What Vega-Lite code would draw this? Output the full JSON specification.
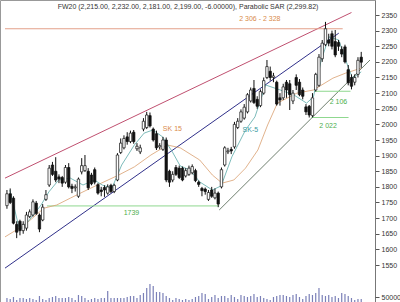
{
  "$schema": "https://vega.github.io/schema/vega-lite/v6.json",
  "width": 375,
  "height": 302,
  "autosize": {"type": "none"},
  "padding": {"left": 0, "top": 0, "right": 25, "bottom": 0},
  "background": "white",
  "config": {"view": {"stroke": "#999", "strokeWidth": 1}, "font": "Liberation Sans"},
  "datasets": {
    "candles": [
      {"i":0,"o":1740,"h":1790,"l":1730,"c":1778,"v":40000},
      {"i":1,"o":1778,"h":1795,"l":1745,"c":1750,"v":30000},
      {"i":2,"o":1764,"h":1770,"l":1680,"c":1684,"v":50000},
      {"i":3,"o":1680,"h":1690,"l":1636,"c":1655,"v":20000},
      {"i":4,"o":1690,"h":1695,"l":1645,"c":1660,"v":40000},
      {"i":5,"o":1660,"h":1690,"l":1650,"c":1680,"v":40000},
      {"i":6,"o":1668,"h":1720,"l":1660,"c":1710,"v":30000},
      {"i":7,"o":1705,"h":1728,"l":1700,"c":1720,"v":40000},
      {"i":8,"o":1710,"h":1760,"l":1705,"c":1752,"v":30000},
      {"i":9,"o":1748,"h":1755,"l":1710,"c":1715,"v":20000},
      {"i":10,"o":1710,"h":1715,"l":1655,"c":1665,"v":60000},
      {"i":11,"o":1694,"h":1745,"l":1690,"c":1735,"v":30000},
      {"i":12,"o":1760,"h":1790,"l":1755,"c":1775,"v":20000},
      {"i":13,"o":1806,"h":1870,"l":1800,"c":1860,"v":40000},
      {"i":14,"o":1870,"h":1880,"l":1835,"c":1840,"v":50000},
      {"i":15,"o":1850,"h":1895,"l":1815,"c":1822,"v":60000},
      {"i":16,"o":1832,"h":1840,"l":1812,"c":1825,"v":40000},
      {"i":17,"o":1830,"h":1835,"l":1800,"c":1812,"v":40000},
      {"i":18,"o":1815,"h":1870,"l":1810,"c":1862,"v":40000},
      {"i":19,"o":1862,"h":1876,"l":1795,"c":1800,"v":50000},
      {"i":20,"o":1802,"h":1810,"l":1780,"c":1795,"v":40000},
      {"i":21,"o":1797,"h":1808,"l":1785,"c":1800,"v":20000},
      {"i":22,"o":1770,"h":1830,"l":1765,"c":1825,"v":70000},
      {"i":23,"o":1848,"h":1892,"l":1840,"c":1868,"v":60000},
      {"i":24,"o":1852,"h":1902,"l":1848,"c":1868,"v":40000},
      {"i":25,"o":1850,"h":1860,"l":1790,"c":1797,"v":20000},
      {"i":26,"o":1838,"h":1845,"l":1805,"c":1810,"v":30000},
      {"i":27,"o":1855,"h":1862,"l":1808,"c":1815,"v":40000},
      {"i":28,"o":1807,"h":1812,"l":1775,"c":1780,"v":30000},
      {"i":29,"o":1790,"h":1800,"l":1770,"c":1785,"v":40000},
      {"i":30,"o":1798,"h":1805,"l":1768,"c":1790,"v":40000},
      {"i":31,"o":1780,"h":1808,"l":1775,"c":1800,"v":110000},
      {"i":32,"o":1805,"h":1810,"l":1780,"c":1785,"v":40000},
      {"i":33,"o":1785,"h":1810,"l":1780,"c":1805,"v":40000},
      {"i":34,"o":1822,"h":1908,"l":1818,"c":1902,"v":40000},
      {"i":35,"o":1910,"h":1955,"l":1905,"c":1940,"v":40000},
      {"i":36,"o":1925,"h":1965,"l":1920,"c":1955,"v":40000},
      {"i":37,"o":1960,"h":1975,"l":1935,"c":1945,"v":50000},
      {"i":38,"o":1945,"h":1980,"l":1940,"c":1972,"v":60000},
      {"i":39,"o":1975,"h":1982,"l":1938,"c":1945,"v":60000},
      {"i":40,"o":1922,"h":1940,"l":1915,"c":1930,"v":40000},
      {"i":41,"o":1912,"h":1935,"l":1905,"c":1925,"v":70000},
      {"i":42,"o":1985,"h":2020,"l":1978,"c":2010,"v":90000},
      {"i":43,"o":1990,"h":2040,"l":1985,"c":2030,"v":140000},
      {"i":44,"o":2028,"h":2038,"l":1990,"c":1995,"v":180000},
      {"i":45,"o":1985,"h":1990,"l":1945,"c":1950,"v":160000},
      {"i":46,"o":1970,"h":1980,"l":1918,"c":1925,"v":100000},
      {"i":47,"o":1928,"h":1940,"l":1920,"c":1932,"v":100000},
      {"i":48,"o":1920,"h":1960,"l":1915,"c":1950,"v":90000},
      {"i":49,"o":1950,"h":1958,"l":1815,"c":1822,"v":60000},
      {"i":50,"o":1850,"h":1855,"l":1800,"c":1815,"v":40000},
      {"i":51,"o":1822,"h":1850,"l":1815,"c":1840,"v":20000},
      {"i":52,"o":1862,"h":1870,"l":1835,"c":1840,"v":40000},
      {"i":53,"o":1860,"h":1868,"l":1825,"c":1830,"v":30000},
      {"i":54,"o":1860,"h":1865,"l":1818,"c":1822,"v":20000},
      {"i":55,"o":1835,"h":1860,"l":1830,"c":1852,"v":30000},
      {"i":56,"o":1840,"h":1868,"l":1835,"c":1860,"v":20000},
      {"i":57,"o":1845,"h":1872,"l":1840,"c":1865,"v":30000},
      {"i":58,"o":1852,"h":1858,"l":1815,"c":1820,"v":50000},
      {"i":59,"o":1815,"h":1820,"l":1800,"c":1808,"v":60000},
      {"i":60,"o":1795,"h":1800,"l":1770,"c":1788,"v":90000},
      {"i":61,"o":1793,"h":1798,"l":1775,"c":1785,"v":80000},
      {"i":62,"o":1760,"h":1790,"l":1755,"c":1782,"v":30000},
      {"i":63,"o":1790,"h":1800,"l":1765,"c":1770,"v":50000},
      {"i":64,"o":1765,"h":1795,"l":1760,"c":1780,"v":70000},
      {"i":65,"o":1780,"h":1785,"l":1735,"c":1745,"v":40000},
      {"i":66,"o":1800,"h":1862,"l":1795,"c":1855,"v":60000},
      {"i":67,"o":1870,"h":1930,"l":1865,"c":1925,"v":60000},
      {"i":68,"o":1912,"h":1925,"l":1905,"c":1915,"v":40000},
      {"i":69,"o":1920,"h":1928,"l":1905,"c":1915,"v":70000},
      {"i":70,"o":1928,"h":2008,"l":1922,"c":2000,"v":50000},
      {"i":71,"o":1990,"h":2020,"l":1985,"c":2010,"v":30000},
      {"i":72,"o":2010,"h":2048,"l":2005,"c":2040,"v":70000},
      {"i":73,"o":2020,"h":2065,"l":2015,"c":2055,"v":60000},
      {"i":74,"o":2040,"h":2100,"l":2035,"c":2095,"v":50000},
      {"i":75,"o":2075,"h":2118,"l":2070,"c":2110,"v":60000},
      {"i":76,"o":2115,"h":2142,"l":2065,"c":2070,"v":80000},
      {"i":77,"o":2080,"h":2090,"l":2050,"c":2058,"v":50000},
      {"i":78,"o":2060,"h":2112,"l":2055,"c":2105,"v":60000},
      {"i":79,"o":2100,"h":2150,"l":2095,"c":2140,"v":40000},
      {"i":80,"o":2150,"h":2206,"l":2145,"c":2185,"v":30000},
      {"i":81,"o":2170,"h":2185,"l":2140,"c":2150,"v":20000},
      {"i":82,"o":2150,"h":2165,"l":2135,"c":2155,"v":50000},
      {"i":83,"o":2135,"h":2140,"l":2060,"c":2065,"v":60000},
      {"i":84,"o":2085,"h":2100,"l":2060,"c":2078,"v":70000},
      {"i":85,"o":2085,"h":2130,"l":2078,"c":2120,"v":70000},
      {"i":86,"o":2135,"h":2142,"l":2085,"c":2110,"v":60000},
      {"i":87,"o":2130,"h":2142,"l":2046,"c":2095,"v":50000},
      {"i":88,"o":2075,"h":2110,"l":2065,"c":2100,"v":70000},
      {"i":89,"o":2150,"h":2160,"l":2110,"c":2125,"v":80000},
      {"i":90,"o":2135,"h":2145,"l":2090,"c":2095,"v":50000},
      {"i":91,"o":2110,"h":2118,"l":2080,"c":2090,"v":30000},
      {"i":92,"o":2056,"h":2065,"l":2030,"c":2040,"v":60000},
      {"i":93,"o":2058,"h":2062,"l":2022,"c":2030,"v":80000},
      {"i":94,"o":2028,"h":2100,"l":2022,"c":2085,"v":70000},
      {"i":95,"o":2110,"h":2165,"l":2105,"c":2160,"v":90000},
      {"i":96,"o":2125,"h":2225,"l":2120,"c":2215,"v":140000},
      {"i":97,"o":2210,"h":2270,"l":2200,"c":2260,"v":70000},
      {"i":98,"o":2255,"h":2328,"l":2250,"c":2306,"v":60000},
      {"i":99,"o":2270,"h":2290,"l":2250,"c":2260,"v":70000},
      {"i":100,"o":2290,"h":2300,"l":2240,"c":2250,"v":50000},
      {"i":101,"o":2265,"h":2302,"l":2215,"c":2222,"v":60000},
      {"i":102,"o":2262,"h":2270,"l":2235,"c":2250,"v":40000},
      {"i":103,"o":2240,"h":2250,"l":2215,"c":2225,"v":90000},
      {"i":104,"o":2248,"h":2255,"l":2195,"c":2200,"v":80000},
      {"i":105,"o":2175,"h":2190,"l":2125,"c":2133,"v":60000},
      {"i":106,"o":2150,"h":2160,"l":2112,"c":2122,"v":40000},
      {"i":107,"o":2135,"h":2160,"l":2125,"c":2150,"v":20000},
      {"i":108,"o":2160,"h":2215,"l":2150,"c":2205,"v":30000},
      {"i":109,"o":2215,"h":2232,"l":2181,"c":2199,"v":30000}
    ],
    "fast": [
      {"i":0.9,"p":1790},{"i":3.9,"p":1662},{"i":6.9,"p":1694},{"i":10.5,"p":1742},
      {"i":12.9,"p":1784},{"i":15.9,"p":1822},{"i":19.5,"p":1828},{"i":23.4,"p":1806},
      {"i":26.9,"p":1822},{"i":29.3,"p":1806},{"i":32.3,"p":1796},{"i":35.3,"p":1870},
      {"i":39.2,"p":1934},{"i":42.2,"p":1972},{"i":44.9,"p":1982},{"i":47.9,"p":1960},
      {"i":50.9,"p":1912},{"i":53.3,"p":1867},{"i":56.3,"p":1854},{"i":59.3,"p":1816},
      {"i":63.2,"p":1790},{"i":65.9,"p":1803},{"i":69.2,"p":1896},{"i":73.4,"p":1982},
      {"i":76.3,"p":2024},{"i":79.6,"p":2126},{"i":84.1,"p":2110},{"i":88.3,"p":2094},
      {"i":92.2,"p":2068},{"i":94.3,"p":2088},{"i":96.7,"p":2206},{"i":99.1,"p":2280},
      {"i":102.1,"p":2270},{"i":104.2,"p":2206},{"i":106.3,"p":2148},{"i":109,"p":2168}
    ],
    "slow": [
      {"i":-0.6,"p":1640},{"i":5.4,"p":1678},{"i":11.4,"p":1732},{"i":15.3,"p":1742},
      {"i":19.5,"p":1764},{"i":23.4,"p":1784},{"i":27.8,"p":1806},{"i":34.4,"p":1838},
      {"i":39.2,"p":1864},{"i":44.3,"p":1902},{"i":49.4,"p":1934},{"i":53.3,"p":1925},
      {"i":59.3,"p":1886},{"i":63.2,"p":1838},{"i":66.2,"p":1812},{"i":69.8,"p":1822},
      {"i":73.4,"p":1860},{"i":77.2,"p":1918},{"i":80.2,"p":1998},{"i":83.2,"p":2068},
      {"i":89.2,"p":2100},{"i":94.3,"p":2110},{"i":100.3,"p":2148},{"i":104.2,"p":2164},
      {"i":109,"p":2180}
    ],
    "trend": [
      {"id":"a","k":"red","i":-0.6,"p":1828},{"id":"a","k":"red","i":106,"p":2358},
      {"id":"b","k":"navy","i":-0.6,"p":1540},{"id":"b","k":"navy","i":102.1,"p":2292},
      {"id":"c","k":"gray","i":65.3,"p":1726},{"id":"c","k":"gray","i":111.7,"p":2206},
      {"id":"d","k":"salmon","i":-0.6,"p":2306},{"id":"d","k":"salmon","i":103.3,"p":2306},
      {"id":"e","k":"greenline","i":12.3,"p":1739},{"id":"e","k":"greenline","i":65.3,"p":1739},
      {"id":"f","k":"greenline","i":94.5,"p":2106},{"id":"f","k":"greenline","i":105.7,"p":2106},
      {"id":"g","k":"greenline","i":93.7,"p":2022},{"id":"g","k":"greenline","i":105.1,"p":2022}
    ],
    "labels": [
      {"i":38.3,"p":1716,"t":"1739","k":"green"},
      {"i":102,"p":2072,"t":"2 106","k":"green"},
      {"i":98.8,"p":1995,"t":"2 022","k":"green"},
      {"i":50.9,"p":1985,"t":"SK 15","k":"orange"},
      {"i":74.9,"p":1982,"t":"SK-5","k":"teal"},
      {"i":77.8,"p":2337,"t":"2 306 - 2 328","k":"orange"},
      {"i":55.7,"p":2376,"t":"FW20 (2,215.00, 2,232.00, 2,181.00, 2,199.00, -6.00000), Parabolic SAR (2,299.82)","k":"title"}
    ]
  },
  "resolve": {"scale": {"y": "independent"}},
  "layer": [
    {
      "layer": [
        {
          "data": {"name": "trend"},
          "mark": {"type": "line", "strokeWidth": 1, "clip": true},
          "encoding": {
            "x": {"field": "i", "type": "quantitative", "scale": {"domain": [-0.6, 111.7], "nice": false, "zero": false}, "axis": null},
            "y": {"field": "p", "type": "quantitative", "scale": {"domain": [1431.6, 2398], "nice": false, "zero": false},
              "axis": {"orient": "right", "values": [1550,1600,1650,1700,1750,1800,1850,1900,1950,2000,2050,2100,2150,2200,2250,2300,2350],
                "tickCount": 100, "format": "d", "title": null, "grid": false, "labelFontSize": 7, "labelColor": "#333", "tickColor": "#555",
                "tickSize": 4, "domainColor": "#777", "labelPadding": 2, "labelFont": "Liberation Sans", "labelOverlap": false}},
            "detail": {"field": "id"},
            "color": {"field": "k", "type": "nominal", "legend": null,
              "scale": {"domain": ["red","navy","gray","salmon","greenline","green","orange","teal","title"],
                "range": ["#c05070","#30308a","#708070","#e3a08a","#8fd88f","#4cae4c","#d98a4a","#3a9aa0","#333333"]}}
          }
        },
        {
          "data": {"name": "slow"},
          "mark": {"type": "line", "strokeWidth": 0.8, "color": "#d9a070", "clip": true},
          "encoding": {
            "x": {"field": "i", "type": "quantitative"},
            "y": {"field": "p", "type": "quantitative"}
          }
        },
        {
          "data": {"name": "fast"},
          "mark": {"type": "line", "strokeWidth": 0.8, "color": "#5aaaa8", "clip": true},
          "encoding": {
            "x": {"field": "i", "type": "quantitative"},
            "y": {"field": "p", "type": "quantitative"}
          }
        },
        {
          "data": {"name": "candles"},
          "mark": {"type": "rule", "color": "#111", "strokeWidth": 1},
          "encoding": {
            "x": {"field": "i", "type": "quantitative"},
            "y": {"field": "l", "type": "quantitative"},
            "y2": {"field": "h"}
          }
        },
        {
          "data": {"name": "candles"},
          "mark": {"type": "bar", "size": 2.4, "stroke": "#111", "strokeWidth": 0.7},
          "encoding": {
            "x": {"field": "i", "type": "quantitative"},
            "y": {"field": "o", "type": "quantitative"},
            "y2": {"field": "c"},
            "fill": {"condition": {"test": "datum.c >= datum.o", "value": "white"}, "value": "#111"}
          }
        },
        {
          "data": {"name": "labels"},
          "mark": {"type": "text", "fontSize": 7, "font": "Liberation Sans", "align": "center", "baseline": "middle"},
          "encoding": {
            "x": {"field": "i", "type": "quantitative"},
            "y": {"field": "p", "type": "quantitative"},
            "text": {"field": "t"},
            "color": {"field": "k", "type": "nominal", "legend": null}
          }
        }
      ]
    },
    {
      "data": {"name": "candles"},
      "mark": {"type": "bar", "size": 1.2, "color": "#7b80b8"},
      "encoding": {
        "x": {"field": "i", "type": "quantitative"},
        "y": {"field": "v", "type": "quantitative", "scale": {"domain": [0, 3020000], "nice": false},
          "axis": {"orient": "right", "values": [50000], "format": "d", "title": null, "grid": false, "domain": false,
            "labelFontSize": 7, "labelColor": "#333", "tickColor": "#555", "tickSize": 4, "labelPadding": 2, "labelFont": "Liberation Sans", "labelOverlap": false}}
      }
    }
  ]
}
